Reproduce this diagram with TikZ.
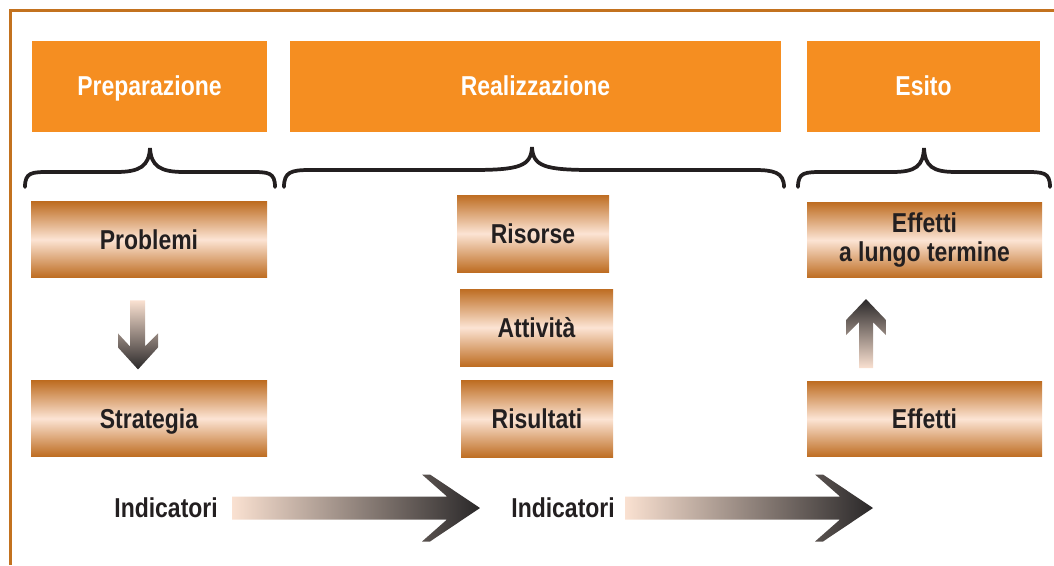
\documentclass[tikz,border=0pt]{standalone}
\usepackage{fontspec}
\setmainfont{Liberation Sans}[FakeStretch=0.84]
\usepackage{xcolor}
\usepackage{tikz}
\usetikzlibrary{calc}
\definecolor{PhaseOrange}{HTML}{F58E21}
\definecolor{Bronze}{HTML}{BE6D22}
\definecolor{BronzeLight}{HTML}{FCE4D4}
\definecolor{FrameBrown}{HTML}{C3721F}
\definecolor{InkDark}{HTML}{231F20}
\definecolor{ArrowPeach}{HTML}{FAE1D1}
\definecolor{ArrowDark}{HTML}{2A2829}

\begin{document}
\begin{tikzpicture}[x=0.75pt,y=-0.75pt,
    every node/.style={font=\fontsize{20.5}{22}\selectfont\bfseries},
    oneline/.style={text height=14.7pt,text depth=0pt},
    hdr/.style={fill=PhaseOrange,text=white,minimum height=68.25pt,inner sep=0pt,oneline},
    bronze/.style={top color=Bronze,bottom color=Bronze,middle color=BronzeLight,
                   text=InkDark,minimum height=56.5pt,inner sep=0pt},
    curly/.style={draw=InkDark,line width=2.8pt,line cap=round}]
  \useasboundingbox (0,0) rectangle (1054,565);
  \draw[FrameBrown,line width=2.2pt] (10.5,565) -- (10.5,10.5) -- (1054,10.5);

  % phases
  \node[hdr,minimum width=176.25pt] (prep) at (149.5,86) {Preparazione};
  \node[hdr,minimum width=368.25pt] (real) at (535.5,86) {Realizzazione};
  \node[hdr,minimum width=174.75pt] (esito) at (923.5,86) {Esito};

  \draw[curly] (25,187) .. controls (25,172) and (32,172) .. (50,172) -- (116,172)
    .. controls (140,172) and (149,166) .. (150,148)
    .. controls (151,166) and (160,172) .. (184,172) -- (250,172)
    .. controls (268,172) and (275,172) .. (275,187);
  \draw[curly] (284,187) .. controls (284,172) and (291,170) .. (310,170) -- (472,170)
    .. controls (520,170) and (531,166) .. (532,147)
    .. controls (533,166) and (544,170) .. (592,170) -- (754,170)
    .. controls (773,170) and (784,172) .. (784,187);
  \draw[curly] (798,187) .. controls (798,172) and (805,172) .. (824,172) -- (892,172)
    .. controls (916,172) and (923,166) .. (924,148)
    .. controls (925,166) and (932,172) .. (956,172) -- (1024,172)
    .. controls (1043,172) and (1050,172) .. (1050,187);

  % boxes
  \node[bronze,oneline,minimum width=177pt] (prob) at (149,239.5) {Problemi};
  \node[bronze,oneline,minimum width=177pt] (strat) at (149,418.5) {Strategia};
  \node[bronze,oneline,minimum width=114pt,minimum height=57.75pt] (ris) at (533,233.5) {Risorse};
  \node[bronze,oneline,minimum width=114.75pt,minimum height=57.75pt] (att) at (536.5,327.5) {Attività};
  \node[bronze,oneline,minimum width=114pt,minimum height=57.75pt] (res) at (537,419) {Risultati};
  \node[bronze,align=center,minimum width=176.25pt] (lungo) at (924.5,240) {Effetti\\a lungo termine};
  \node[bronze,oneline,minimum width=176.25pt] (eff) at (924.5,419) {Effetti};

  % indicators
  \node[text=InkDark,inner sep=0pt,anchor=east] (ind1) at (218,508) {Indicatori};
  \node[text=InkDark,inner sep=0pt,anchor=east] (ind2) at (615,508) {Indicatori};

  % fat arrows
  \shade[top color=ArrowPeach,bottom color=ArrowDark]
    ($(prob.south)+(-19,23)$) -- ++(15,0) -- ++(0,46) -- ++(13,-13) -- ++(0,14)
    -- ++(-20,22) -- ++(-20,-22) -- ++(0,-14) -- ++(12,13) -- cycle;
  \shade[top color=ArrowDark,bottom color=ArrowPeach]
    ($(eff.north)+(-65.5,-13)$) -- ++(14,0) -- ++(0,-46) -- ++(13,13) -- ++(0,-15)
    -- ++(-20,-21) -- ++(-20,21) -- ++(0,15) -- ++(13,-13) -- cycle;
  \shade[left color=ArrowPeach,right color=ArrowDark]
    ($(ind1.east)+(14,-11.5)$) -- ++(215,0) -- ++(-25,-22) -- ++(8,0) -- ++(50,33.5)
    -- ++(-50,33.5) -- ++(-8,0) -- ++(25,-22) -- ++(-215,0) -- cycle;
  \shade[left color=ArrowPeach,right color=ArrowDark]
    ($(ind2.east)+(10,-11.5)$) -- ++(215,0) -- ++(-25,-22) -- ++(8,0) -- ++(50,33.5)
    -- ++(-50,33.5) -- ++(-8,0) -- ++(25,-22) -- ++(-215,0) -- cycle;
\end{tikzpicture}
\end{document}
